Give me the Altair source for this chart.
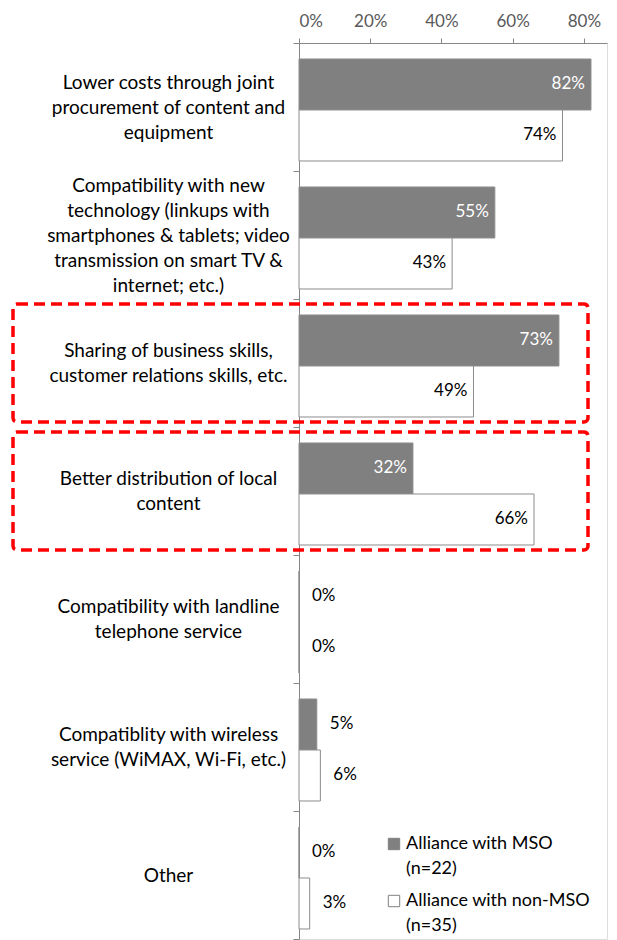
import altair as alt
import pandas as pd

categories = [
    "Lower costs through joint|procurement of content and|equipment",
    "Compatibility with new|technology (linkups with|smartphones & tablets; video|transmission on smart TV &|internet; etc.)",
    "Sharing of business skills,|customer relations skills, etc.",
    "Better distribution of local|content",
    "Compatibility with landline|telephone service",
    "Compatiblity with wireless|service (WiMAX, Wi-Fi, etc.)",
    "Other",
]
series = ["Alliance with MSO|(n=22)", "Alliance with non-MSO|(n=35)"]
mso = [82, 55, 73, 32, 0, 5, 0]
non_mso = [74, 43, 49, 66, 0, 6, 3]
highlighted = [False, False, True, True, False, False, False]

rows = []
for c, a, b in zip(categories, mso, non_mso):
    rows.append({"category": c, "series": series[0], "value": a / 100, "dark": True})
    rows.append({"category": c, "series": series[1], "value": b / 100, "dark": False})
df = pd.DataFrame(rows)
df["inside"] = df["value"] >= 0.15
hl = pd.DataFrame({"category": [c for c, h in zip(categories, highlighted) if h]})

FONT = "Lato"
FS_NUM = 17
FS_TXT = 19
FS_LEG = 18

yscale = alt.Scale(domain=categories, paddingInner=0, paddingOuter=0)
yoff = alt.YOffset("series:N", sort=series,
                   scale=alt.Scale(domain=series, paddingInner=0, paddingOuter=0.255, align=0.615))
xscale = alt.Scale(domain=[0, 0.865], nice=False)

nlines = "length(split(datum.value, '|'))"
y_axis = alt.Axis(
    title=None, orient="left", tickBand="extent", tickSize=6, tickColor="#868686",
    domainColor="#868686", labelExpr="split(datum.label, '|')", labelAlign="center",
    labelBaseline="middle", labelPadding=125, labelLineHeight=25, labelLimit=320,
    labelFont=FONT, labelFontSize=FS_TXT, labelColor="#000000", labelOverlap=False,
    labelBound=False, grid=False,
    labelOffset={
        "condition": [
            {"test": f"{nlines} == 5", "value": -50},
            {"test": f"{nlines} == 3", "value": -25},
            {"test": f"{nlines} == 2", "value": -12.5},
        ],
        "value": 0,
    },
)
x_axis = alt.Axis(
    title=None, orient="top", format=".0%", values=[0, 0.2, 0.4, 0.6, 0.8],
    tickSize=5, tickColor="#868686", domainColor="#868686", labelColor="#595959",
    labelFont=FONT, labelFontSize=FS_NUM, labelPadding=8, grid=False,
)

base = alt.Chart(df)
bars = base.mark_bar(stroke="#8c8c8c", strokeWidth=1).encode(
    y=alt.Y("category:N", sort=categories, scale=yscale, axis=y_axis),
    yOffset=yoff,
    x=alt.X("value:Q", scale=xscale, axis=x_axis),
    color=alt.Color(
        "series:N", sort=series,
        scale=alt.Scale(domain=series, range=["#808080", "#ffffff"]),
        legend=alt.Legend(
            title=None, orient="none", legendX=86, legendY=792, symbolType="square",
            symbolSize=130, symbolStrokeColor="#808080", symbolStrokeWidth=1,
            labelExpr="split(datum.label, '|')", labelFont=FONT, labelFontSize=FS_LEG,
            labelColor="#000000", labelLimit=300, rowPadding=14, labelOffset=3,
            padding=0,
        ),
    ),
)

enc = dict(
    y=alt.Y("category:N", sort=categories, scale=yscale),
    yOffset=yoff,
    x=alt.X("value:Q", scale=xscale),
    text=alt.Text("value:Q", format=".0%"),
)
in_dark = base.transform_filter("datum.inside && datum.dark").mark_text(
    align="right", baseline="middle", dx=-6, font=FONT, fontSize=FS_NUM, color="#ffffff"
).encode(**enc)
in_light = base.transform_filter("datum.inside && !datum.dark").mark_text(
    align="right", baseline="middle", dx=-6, font=FONT, fontSize=FS_NUM, color="#000000"
).encode(**enc)
outside = base.transform_filter("!datum.inside").mark_text(
    align="left", baseline="middle", dx=13, font=FONT, fontSize=FS_NUM, color="#000000"
).encode(**enc)

boxes = alt.Chart(hl).mark_bar(
    fill="transparent", stroke="#ff0000", strokeWidth=3.5, strokeDash=[11, 6],
    cornerRadius=4, height={"band": 0.92},
).encode(
    y=alt.Y("category:N", sort=categories, scale=yscale),
    x=alt.value(-286),
    x2=alt.value(289),
)

chart = alt.layer(bars, in_dark, in_light, outside, boxes).properties(
    width=308, height=896,
    padding={"left": 291, "top": 35, "right": 2, "bottom": 1},
    autosize=alt.AutoSizeParams(type="none"),
    background="#ffffff",
).configure_view(stroke=None).configure(style={"guide-label": {"lineHeight": 25}})

chart.save("out.html", embed_options={"renderer": "svg", "actions": False})
